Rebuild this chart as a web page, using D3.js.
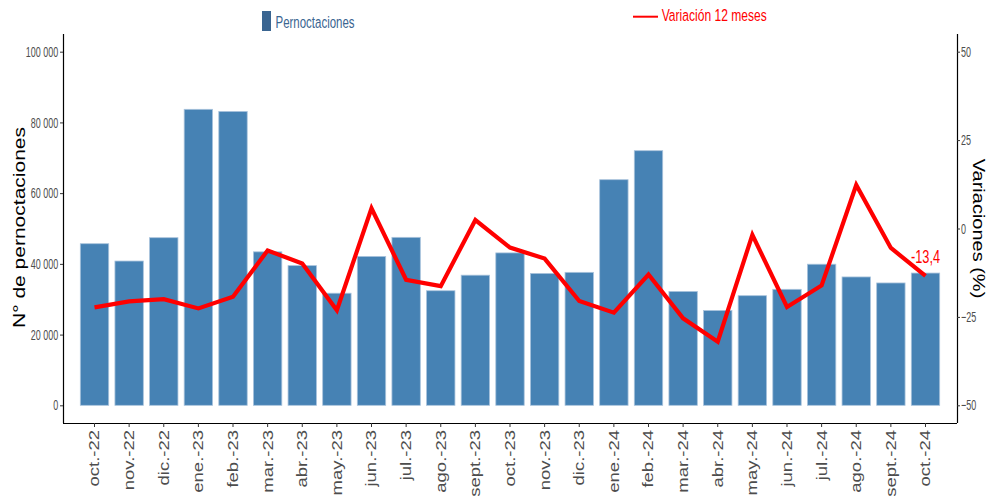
<!DOCTYPE html>
<html>
<head>
<meta charset="utf-8">
<script src="https://cdn.jsdelivr.net/npm/d3@7"></script>
<style>
  body { margin: 0; background: #fff; }
  text { font-family: 'Liberation Sans', Arial, sans-serif; }
</style>
</head>
<body>
<div class="canvas"></div>
<script>
// data
const months = ['oct.-22', 'nov.-22', 'dic.-22', 'ene.-23', 'feb.-23', 'mar.-23', 'abr.-23', 'may.-23',
  'jun.-23', 'jul.-23', 'ago.-23', 'sept.-23', 'oct.-23', 'nov.-23', 'dic.-23', 'ene.-24', 'feb.-24',
  'mar.-24', 'abr.-24', 'may.-24', 'jun.-24', 'jul.-24', 'ago.-24', 'sept.-24', 'oct.-24'];
const pernoctaciones = [45700, 40800, 47400, 83700, 83100, 43400, 39500, 31700, 42100, 47500, 32400, 36800,
  43100, 37300, 37600, 63800, 72000, 32200, 26800, 31000, 32800, 39900, 36300, 34600, 37400];
const variacion = [-22.3, -20.6, -20.0, -22.6, -19.3, -6.2, -9.9, -23.1, 5.7, -14.5, -16.3, 2.4,
  -5.4, -8.5, -20.5, -23.8, -13.0, -25.4, -32.0, -1.8, -22.2, -16.1, 12.3, -5.5, -13.4];
const leftTicks = [0, 20000, 40000, 60000, 80000, 100000];
const rightTicks = [-50, -25, 0, 25, 50];

const width = 987, height = 496;
const svg = d3.select('.canvas').append('svg')
    .attr('width', width)
    .attr('height', height);

// plot area
const plot = { left: 63, right: 957, top: 34, bottom: 423 };
const squash = 0.62; // the original picture looks squeezed sideways

const x = d3.scaleBand()
    .domain(months)
    .range([plot.left, plot.right])
    .paddingInner(0.18)
    .paddingOuter(0.5);

const y = d3.scaleLinear()
    .domain([-5000, 105000])
    .range([plot.bottom, plot.top]);

const y2 = d3.scaleLinear()
    .domain([-55, 55])
    .range([plot.bottom, plot.top]);

const fmt = d => d3.format(',')(d).replace(/,/g, ' ');

// bars
svg.append('g').selectAll('rect')
    .data(pernoctaciones)
    .enter().append('rect')
    .attr('x', (d, i) => x(months[i]))
    .attr('y', d => y(d))
    .attr('width', x.bandwidth())
    .attr('height', d => y(0) - y(d))
    .attr('fill', '#4682B4')
    .attr('stroke', '#a9c3dc')
    .attr('stroke-width', 0.8);

// line
const line = d3.line()
    .x((d, i) => x(months[i]) + x.bandwidth() / 2)
    .y(d => y2(d));

svg.append('path')
    .datum(variacion)
    .attr('d', line)
    .attr('fill', 'none')
    .attr('stroke', '#ff0000')
    .attr('stroke-width', 4.2)
    .attr('stroke-linejoin', 'miter');

// last value label
const last = variacion.length - 1;
svg.append('text')
    .attr('transform', `translate(${x(months[last]) + x.bandwidth() / 2}, ${y2(variacion[last]) - 12.5}) scale(0.69, 1)`)
    .attr('text-anchor', 'middle')
    .attr('fill', '#ff0000')
    .attr('font-size', 18.5)
    .text(String(variacion[last]).replace('.', ','));

// axes
const xAxis = d3.axisBottom(x).tickSize(4).tickSizeOuter(0);
const xAxisGroup = svg.append('g')
    .attr('transform', `translate(0, ${plot.bottom})`)
    .call(xAxis);
xAxisGroup.select('.domain').attr('stroke', '#000').attr('stroke-width', 1.2)
    .attr('d', `M${plot.left},0.5H${plot.right}`);
xAxisGroup.selectAll('.tick line').attr('stroke', '#333');
xAxisGroup.selectAll('text')
    .attr('font-size', 18.5)
    .attr('font-family', 'Liberation Sans, Arial, sans-serif')
    .attr('fill', '#4d4d4d')
    .attr('transform', 'scale(0.76, 1) rotate(-90)')
    .attr('text-anchor', 'end')
    .attr('x', -7)
    .attr('y', 0)
    .attr('dy', '0.35em');

const yAxis = d3.axisLeft(y).tickValues(leftTicks).tickFormat(fmt).tickSize(3).tickSizeOuter(0);
const yAxisGroup = svg.append('g')
    .attr('transform', `translate(${plot.left}, 0)`)
    .call(yAxis);
yAxisGroup.select('.domain').attr('stroke', '#000').attr('stroke-width', 1.2)
    .attr('d', `M0.5,${plot.top}V${plot.bottom}`);
yAxisGroup.selectAll('.tick line').attr('stroke', '#333');
yAxisGroup.selectAll('text')
    .attr('font-size', 14.5)
    .attr('font-family', 'Liberation Sans, Arial, sans-serif')
    .attr('fill', '#4d4d4d')
    .attr('transform', `scale(${squash}, 1)`)
    .attr('x', -4.8 / squash);

const y2Axis = d3.axisRight(y2).tickValues(rightTicks).tickSize(3).tickSizeOuter(0);
const y2AxisGroup = svg.append('g')
    .attr('transform', `translate(${plot.right}, 0)`)
    .call(y2Axis);
y2AxisGroup.select('.domain').attr('stroke', '#000').attr('stroke-width', 1.2)
    .attr('d', `M0.5,${plot.top}V${plot.bottom}`);
y2AxisGroup.selectAll('.tick line').attr('stroke', '#333');
y2AxisGroup.selectAll('text')
    .attr('font-size', 14.5)
    .attr('font-family', 'Liberation Sans, Arial, sans-serif')
    .attr('fill', '#4d4d4d')
    .attr('transform', `scale(${squash}, 1)`)
    .attr('x', 4 / squash);

// axis titles (glyphs squeezed sideways as in the original)
svg.append('text')
    .attr('transform', `translate(25, ${(plot.top + plot.bottom) / 2 - 1}) scale(0.78, 1) rotate(-90)`)
    .attr('text-anchor', 'middle')
    .attr('font-size', 21)
    .attr('fill', '#000')
    .text('N° de pernoctaciones');

svg.append('text')
    .attr('transform', `translate(973, ${(plot.top + plot.bottom) / 2}) scale(0.78, 1) rotate(90)`)
    .attr('text-anchor', 'middle')
    .attr('font-size', 20)
    .attr('fill', '#000')
    .text('Variaciones (%)');

// legends
svg.append('rect')
    .attr('x', 262).attr('y', 11)
    .attr('width', 9).attr('height', 20)
    .attr('fill', '#3a6591');
svg.append('text')
    .attr('transform', 'translate(275.5, 27.7) scale(0.675, 1)')
    .attr('font-size', 17)
    .attr('fill', '#3a6591')
    .text('Pernoctaciones');

svg.append('line')
    .attr('x1', 633).attr('x2', 658)
    .attr('y1', 16.7).attr('y2', 16.7)
    .attr('stroke', '#ff0000')
    .attr('stroke-width', 2);
svg.append('text')
    .attr('transform', 'translate(661.7, 21) scale(0.71, 1)')
    .attr('font-size', 17)
    .attr('fill', '#ff0000')
    .text('Variación 12 meses');
</script>
</body>
</html>
